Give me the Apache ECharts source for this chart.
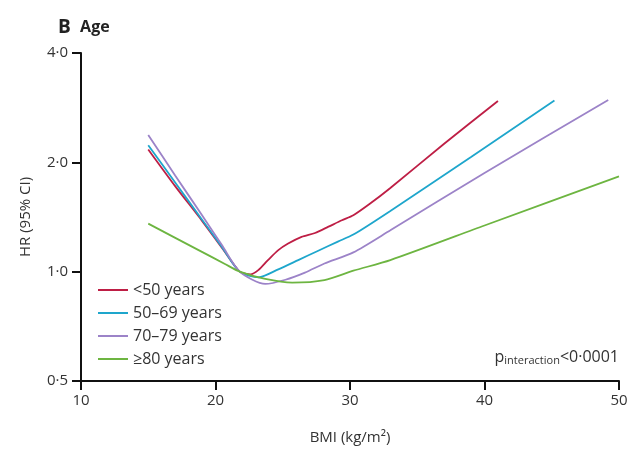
<!DOCTYPE html>
<html>
<head>
<meta charset="utf-8">
<script src="https://cdn.jsdelivr.net/npm/echarts@6/dist/echarts.min.js"></script>
<style>html,body{margin:0;padding:0;background:#fff}#c{width:640px;height:450px}</style>
</head>
<body>
<div id="c"></div>
<script>
// Series names
const seriesNames = ['<50 years', '50\u201369 years', '70\u201379 years', '\u226580 years'];
// BMI (x) and HR (y) values per age group
const bmiU50 = [15, 17, 19, 20.5, 21.8, 22.6, 23.18, 23.9, 24.67, 25.4, 26.4, 27.4, 28.4, 29.4, 30.25, 31.5, 33, 37, 41];
const hrU50  = [2.17, 1.72, 1.38, 1.16, 1.0, 0.983, 1.01, 1.076, 1.146, 1.195, 1.247, 1.278, 1.33, 1.385, 1.43, 1.54, 1.70, 2.25, 2.95];
const bmi5069 = [15, 17, 19, 20.5, 21.8, 23.2, 24.67, 26.15, 27.6, 29.1, 30.25, 33, 39, 45.2];
const hr5069  = [2.23, 1.76, 1.39, 1.166, 1.0, 0.965, 1.015, 1.076, 1.14, 1.21, 1.265, 1.47, 2.07, 2.96];
const bmi7079 = [15, 17, 19, 20.5, 21.8, 23.7, 25.2, 26.65, 28.1, 30.25, 33, 40, 49.2];
const hr7079  = [2.38, 1.84, 1.43, 1.18, 1.0, 0.925, 0.95, 0.994, 1.053, 1.13, 1.30, 1.87, 2.97];
const bmi80 = [15, 18.85, 20.7, 21.8, 23.7, 25.7, 28.1, 30.25, 33, 40, 50];
const hr80  = [1.356, 1.141, 1.05, 1.0, 0.955, 0.933, 0.948, 1.006, 1.076, 1.34, 1.83];
const colors = ['#be1e45', '#1ea6cc', '#9c83c8', '#6db541'];
// Axis ticks
const xTicks = [10, 20, 30, 40, 50];
const yTicks = [0.5, 1, 2, 4];

const pairs = (xs, ys) => xs.map((x, i) => [x, ys[i]]);
const dataSets = [pairs(bmiU50, hrU50), pairs(bmi5069, hr5069), pairs(bmi7079, hr7079), pairs(bmi80, hr80)];
const FONT = '"Open Sans", "Noto Sans", sans-serif';

const chart = echarts.init(document.getElementById('c'), null, {renderer: 'canvas'});
chart.setOption({
  animation: false,
  backgroundColor: '#fff',
  textStyle: {fontFamily: FONT},
  grid: {left: 81, right: 21, top: 53, bottom: 67},
  title: {
    text: '{b|B}  {a|Age}',
    left: 53, top: 13,
    textStyle: {rich: {
      b: {fontSize: 19, fontWeight: 'bold', color: '#222', fontFamily: FONT},
      a: {fontSize: 16, fontWeight: 'bold', color: '#222', fontFamily: FONT}
    }}
  },
  legend: {
    orient: 'vertical', left: 93, top: 277,
    itemWidth: 30, itemHeight: 10, itemGap: 7,
    icon: 'path://M0,4 L30,4 L30,6 L0,6 Z',
    textStyle: {fontSize: 16, color: '#333', fontFamily: FONT},
    data: seriesNames
  },
  xAxis: {
    type: 'value', min: xTicks[0], max: xTicks[xTicks.length - 1], interval: 10,
    name: 'BMI (kg/m\u00b2)', nameLocation: 'middle', nameGap: 49,
    nameTextStyle: {fontSize: 15, color: '#333', fontFamily: FONT},
    axisLine: {lineStyle: {color: '#111', width: 2}},
    axisTick: {length: 9, lineStyle: {color: '#111', width: 2}},
    axisLabel: {fontSize: 15, color: '#333', margin: 12, fontFamily: FONT},
    splitLine: {show: false}
  },
  yAxis: {
    type: 'log', logBase: 2, min: yTicks[0], max: yTicks[yTicks.length - 1],
    name: 'HR (95% CI)', nameLocation: 'middle', nameGap: 48, nameRotate: 90,
    nameTextStyle: {fontSize: 15, color: '#333', fontFamily: FONT},
    axisLine: {show: true, lineStyle: {color: '#111', width: 2}},
    axisTick: {show: true, length: 9, lineStyle: {color: '#111', width: 2}},
    axisLabel: {fontSize: 15, color: '#333', margin: 13, fontFamily: FONT,
      formatter: v => (Math.round(v * 10) / 10).toFixed(1).replace('.', '\u00b7')},
    splitLine: {show: false}
  },
  series: dataSets.map((d, i) => ({
    name: seriesNames[i], type: 'line', data: d, smooth: 0.25,
    showSymbol: false, symbol: 'none',
    lineStyle: {color: colors[i], width: 1.8}, itemStyle: {color: colors[i]}
  })),
  graphic: [{
    type: 'text', right: 21, top: 349,
    style: {
      text: '{p|p}{s|interaction}{p|<0\u00b70001}',
      rich: {
        p: {fontSize: 16, fill: '#333', fontFamily: FONT},
        s: {fontSize: 11, fill: '#333', fontFamily: FONT, padding: [8, 0, 0, 0]}
      }
    }
  }]
});
</script>
</body>
</html>
